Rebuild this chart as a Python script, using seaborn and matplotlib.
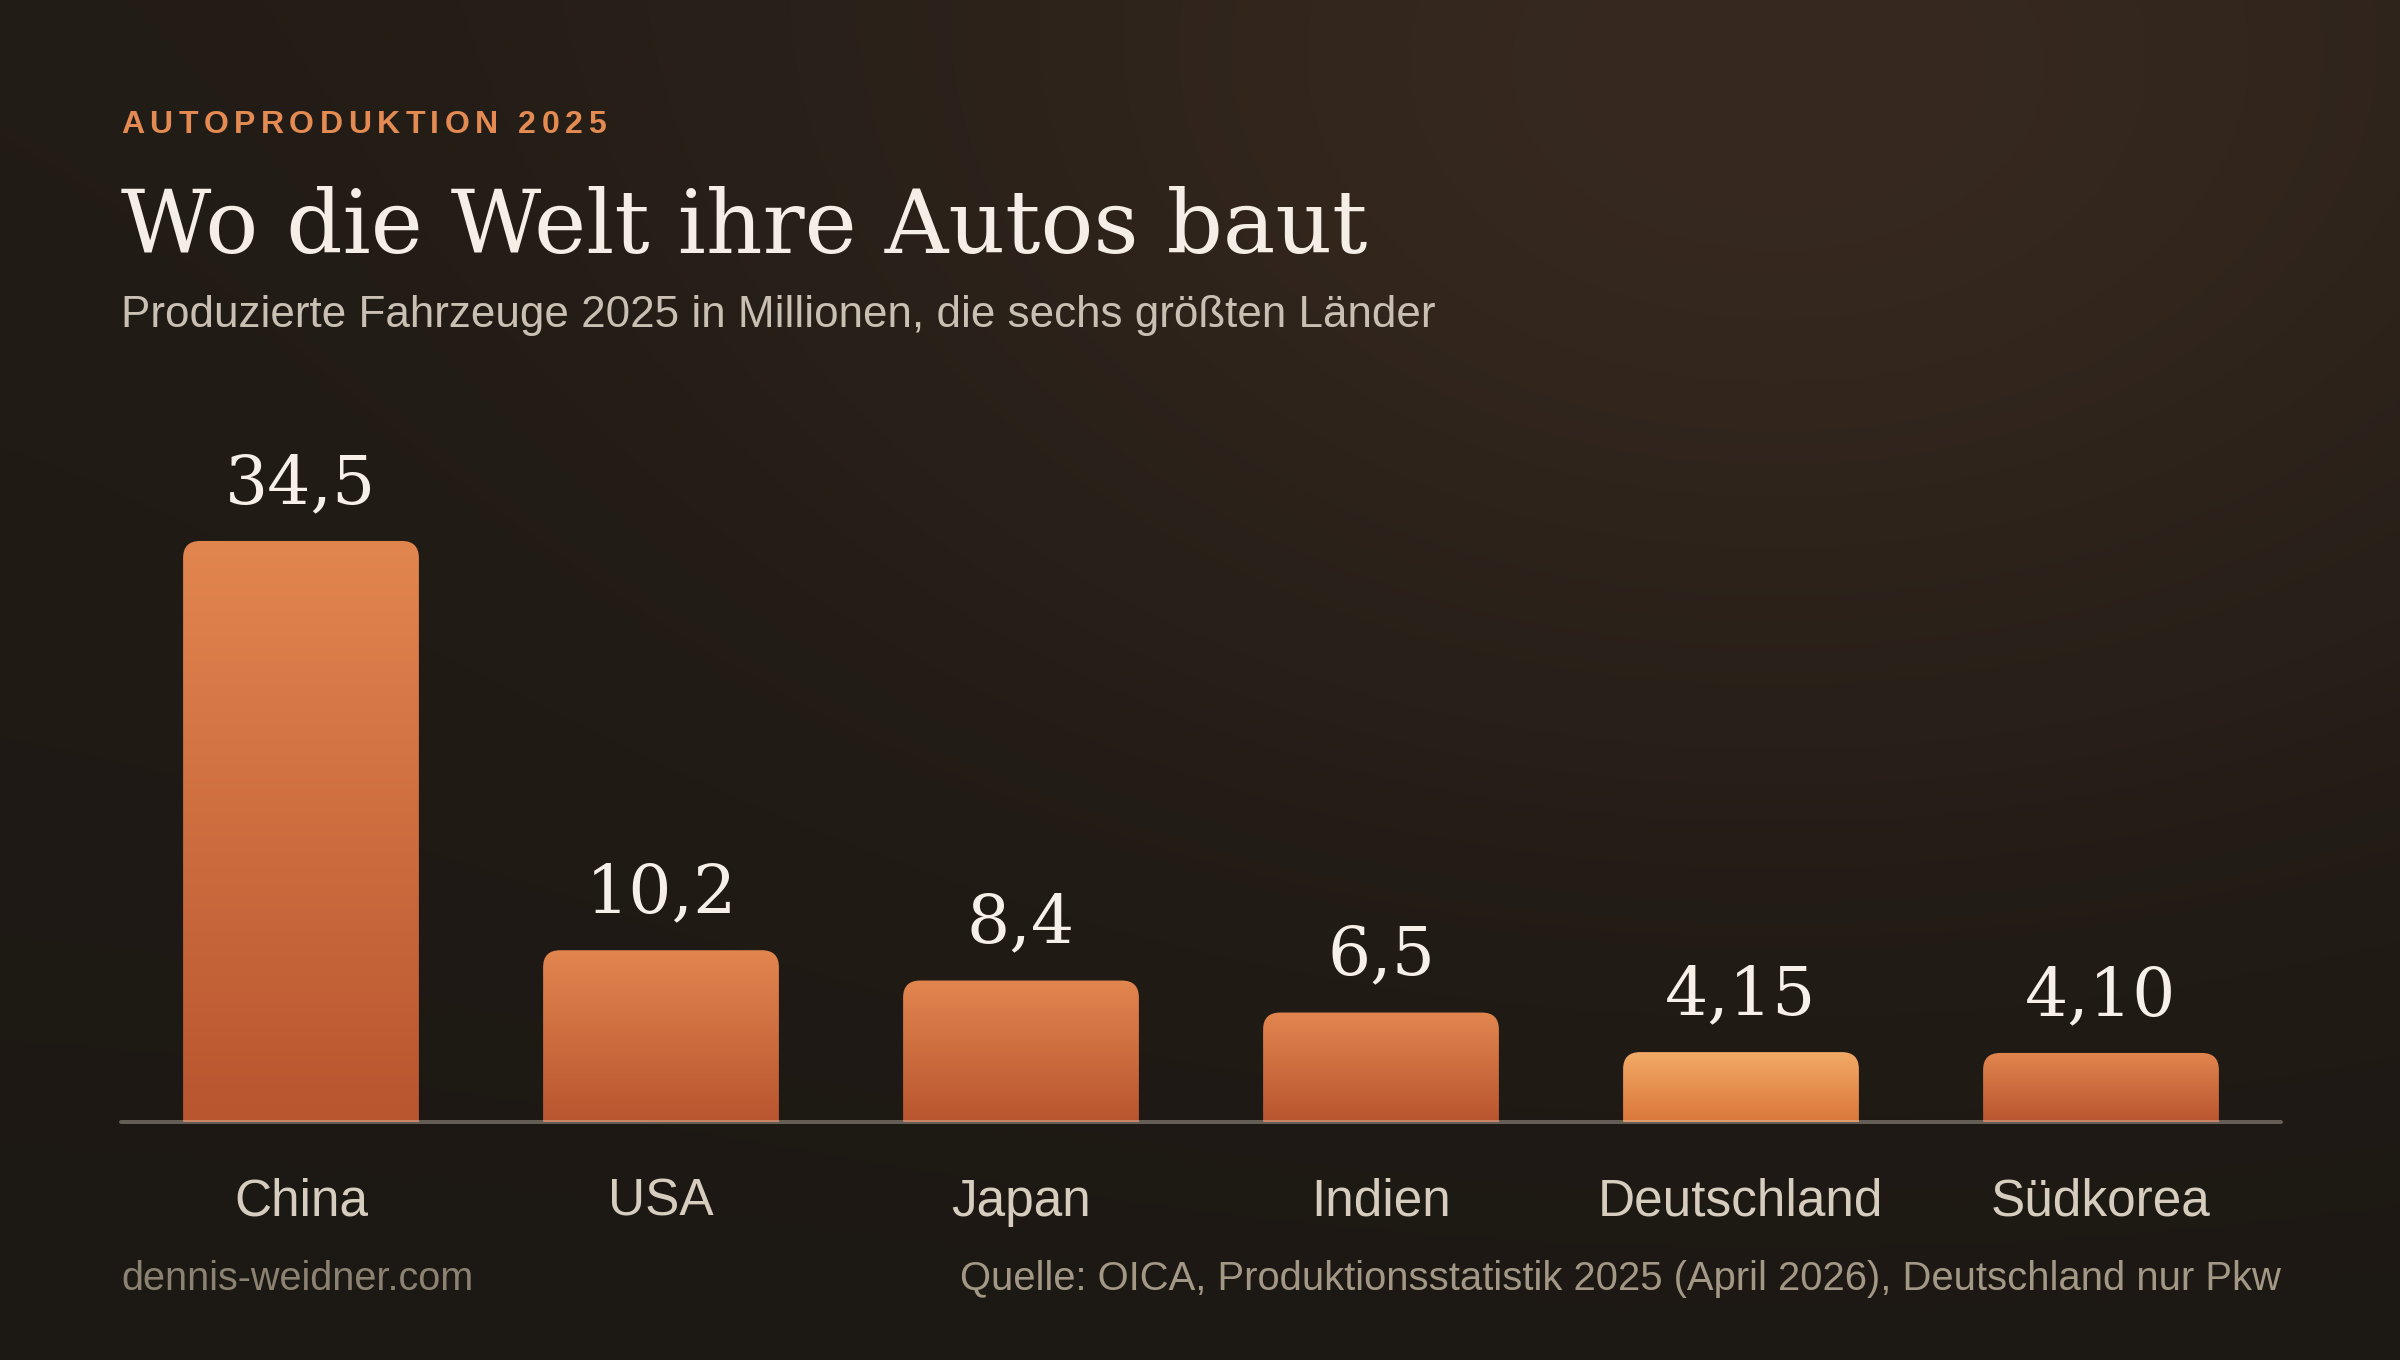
import numpy as np
import pandas as pd
import matplotlib
matplotlib.use("Agg")
import matplotlib.pyplot as plt
import seaborn as sns
from matplotlib.patches import FancyBboxPatch
from matplotlib.colors import to_rgb
from matplotlib.font_manager import FontProperties, findfont, get_font

# ---------------- data ----------------
countries = ["China", "USA", "Japan", "Indien", "Deutschland", "Südkorea"]
values = [34.5, 10.2, 8.4, 6.5, 4.15, 4.10]
value_labels = ["34,5", "10,2", "8,4", "6,5", "4,15", "4,10"]
highlight = "Deutschland"

overline = "AUTOPRODUKTION 2025"
title = "Wo die Welt ihre Autos baut"
subtitle = "Produzierte Fahrzeuge 2025 in Millionen, die sechs größten Länder"
footer_left = "dennis-weidner.com"
footer_right = "Quelle: OICA, Produktionsstatistik 2025 (April 2026), Deutschland nur Pkw"

# ---------------- style ----------------
W, H, DPI = 2400, 1360, 100
sns.set_theme(style="white")
plt.rcParams["font.family"] = ["Liberation Sans", "DejaVu Sans"]

fig = plt.figure(figsize=(W / DPI, H / DPI), dpi=DPI)

# background: dark with warm glow top right
bg_ax = fig.add_axes([0, 0, 1, 1], zorder=-10)
bg_ax.set_axis_off()
hh, ww = 340, 600
yy, xx = np.mgrid[0:hh, 0:ww]
yy = yy / hh
xx = xx / ww
base_top = np.array(to_rgb("#221c16"))
base_bot = np.array(to_rgb("#1c1813"))
glow = np.array(to_rgb("#37291f"))
t = yy[..., None]
base = base_top * (1 - t) + base_bot * t
d = np.sqrt(((xx - 0.74) / 0.45) ** 2 + ((yy - 0.05) / 0.55) ** 2)
g = np.exp(-d ** 2 * 1.3)[..., None]
img = base * (1 - g) + glow * g
bg_ax.imshow(img, extent=[0, 1, 0, 1], aspect="auto", interpolation="bilinear")
bg_ax.set_xlim(0, 1)
bg_ax.set_ylim(0, 1)

# main axes
left_px, right_px, base_px, top_px = 121, 2281, 1122, 400
ax = fig.add_axes([left_px / W, 1 - base_px / H, (right_px - left_px) / W, (base_px - top_px) / H])
ax.patch.set_alpha(0)
ymax = 42.87

df = pd.DataFrame({"country": countries, "value": values})
sns.barplot(data=df, x="country", y="value", ax=ax, width=0.655, color="#c8623a",
            saturation=1, errorbar=None)
ax.set_xlim(-0.5, len(countries) - 0.5)
ax.set_ylim(0, ymax)

px_x = (right_px - left_px) / len(countries)
px_y = (base_px - top_px) / ymax
r_px = 17
r_x = r_px / px_x
r_y = r_px / px_y

def grad(top, bot, n=256):
    a = np.array(to_rgb(top))
    b = np.array(to_rgb(bot))
    s = np.linspace(0, 1, n)[:, None]
    return (a * (1 - s) + b * s)[:, None, :]

normal_grad = grad("#e2864f", "#b9552f")
hl_grad = grad("#f3aa67", "#da773a")

for p, c in zip(ax.patches, countries):
    x0, w, h = p.get_x(), p.get_width(), p.get_height()
    p.set_visible(False)
    fb = FancyBboxPatch((x0, -r_y * 2), w, h + r_y * 2,
                        boxstyle=f"round,pad=0,rounding_size={r_x}",
                        mutation_aspect=r_y / r_x,
                        facecolor="none", edgecolor="none", transform=ax.transData)
    ax.add_patch(fb)
    im = ax.imshow(hl_grad if c == highlight else normal_grad,
                   extent=[x0, x0 + w, 0, h], aspect="auto", origin="upper",
                   interpolation="bilinear", zorder=2)
    im.set_clip_path(fb)

ax.set_xlim(-0.5, len(countries) - 0.5)
ax.set_ylim(0, ymax)
ax.set_aspect("auto")

# baseline
ax.axhline(0, color="#eadfd2", alpha=0.35, lw=4 * 72 / DPI, zorder=5, clip_on=False)

# value labels
for i, (v, lab) in enumerate(zip(values, value_labels)):
    ax.annotate(lab, xy=(i, v), xytext=(0, 38), textcoords="offset pixels",
                ha="center", va="baseline", fontfamily="DejaVu Serif",
                fontsize=49, color="#f6f0e8", zorder=6)

# axes cosmetics
for s in ax.spines.values():
    s.set_visible(False)
ax.set_yticks([])
ax.set_xlabel("")
ax.set_ylabel("")
ax.tick_params(axis="x", length=0, pad=40, labelsize=37, labelcolor="#d6cdbf")
for tl in ax.get_xticklabels():
    tl.set_fontfamily(["Liberation Sans", "DejaVu Sans"])

# ---------------- texts ----------------
def fy(y):
    return 1 - y / H

# overline with letter spacing
prop = FontProperties(family="Liberation Sans", weight="bold", size=23)
font = get_font(findfont(prop))
font.set_size(23, DPI)
spacing = 5.5
x = 121
for ch in overline:
    fig.text(x / W, fy(133), ch, fontproperties=prop, color="#e38b52",
             ha="left", va="baseline")
    gl = font.load_char(ord(ch))
    x += gl.linearHoriAdvance / 65536 + spacing

t_title = fig.text(121 / W, fy(253), title, fontfamily="DejaVu Serif", fontsize=66,
                   color="#f4eee6", ha="left", va="baseline")
t_sub = fig.text(121 / W, fy(327), subtitle, fontsize=30, color="#c9c0b3",
                 ha="left", va="baseline")
t_web = fig.text(121 / W, fy(1290), footer_left, fontsize=28, color="#8c8272",
                 ha="left", va="baseline")
t_src = fig.text(2281 / W, fy(1290), footer_right, fontsize=28, color="#a39886",
                 ha="right", va="baseline")

# fit widths to the reference layout
fig.canvas.draw()
r = fig.canvas.get_renderer()
for txt, target in [(t_title, 1246), (t_sub, 1312), (t_src, 1322), (t_web, 353)]:
    bb = txt.get_window_extent(r)
    txt.set_fontsize(txt.get_fontsize() * target / bb.width)

fig.savefig("out.png", dpi=DPI)
